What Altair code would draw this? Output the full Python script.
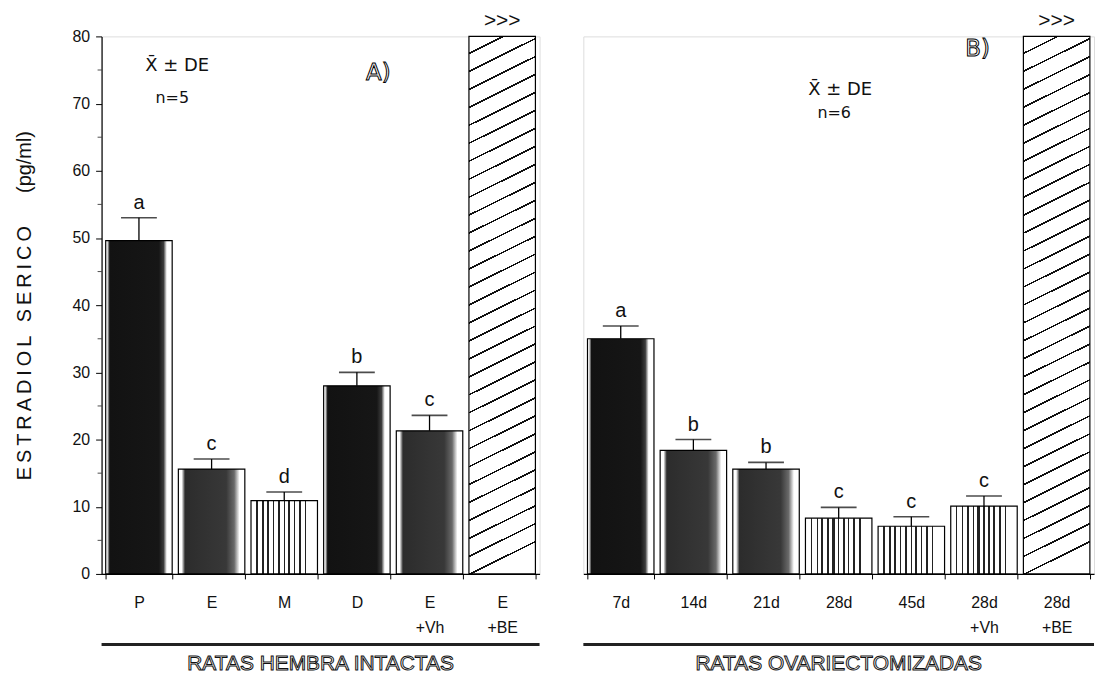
import altair as alt
import pandas as pd

# ---------------- data ----------------
left_groups = ["P", "E", "M", "D", "E|+Vh", "E|+BE"]
left_mean = [49.6, 15.6, 10.9, 28.0, 21.3, 80.0]
left_sd_top = [53.0, 17.1, 12.2, 30.0, 23.6, None]
left_letters = ["a", "c", "d", "b", "c", ""]

right_groups = ["7d", "14d", "21d", "28d", "45d", "28d|+Vh", "28d|+BE"]
right_mean = [35.0, 18.4, 15.6, 8.3, 7.1, 10.1, 80.0]
right_sd_top = [36.9, 20.0, 16.6, 9.9, 8.5, 11.6, None]
right_letters = ["a", "b", "b", "c", "c", "c", ""]

y_ticks = [0, 10, 20, 30, 40, 50, 60, 70, 80]
y_minor = [5, 15, 25, 35, 45, 55, 65, 75]

left_title = "RATAS HEMBRA INTACTAS"
right_title = "RATAS OVARIECTOMIZADAS"
left_notes = ["X\u0304 \u00b1 DE", "n=5", "A)"]
right_notes = ["X\u0304 \u00b1 DE", "n=6", "B)"]
off_scale_mark = ">>>"
y_title = "\u2009".join("ESTRADIOL SERICO") + "\u00a0" * 6 + "(pg/ml)"

# ---------------- style ----------------
FONT = "Liberation Sans"
STEP = 73
PI, PO = 0.085, 0.057
H = 540

DARK = ["P", "D", "7d"]
MEDIUM = ["E", "E|+Vh", "14d", "21d"]
LIGHT = ["M", "28d", "45d", "28d|+Vh"]
HATCH = ["E|+BE", "28d|+BE"]


def hgrad(stops):
    return alt.LinearGradient(
        gradient="linear", x1=0, y1=0, x2=1, y2=0,
        stops=[alt.GradientStop(offset=round(o, 4), color=c) for o, c in stops])


dark_fill = hgrad([(0, "#fff"), (0.02, "#fff"), (0.06, "#121212"), (0.8, "#161616"),
                   (0.87, "#3c3c3c"), (0.92, "#fff"), (1, "#fff")])
medium_fill = hgrad([(0, "#fff"), (0.05, "#fff"), (0.1, "#2c2c2c"), (0.72, "#383838"),
                     (0.84, "#6a6a6a"), (0.92, "#fff"), (1, "#fff")])

light_lines = [(0.08, 0.10), (0.17, 0.19), (0.24, 0.27), (0.33, 0.35), (0.40, 0.44),
               (0.49, 0.51), (0.56, 0.59), (0.64, 0.66), (0.72, 0.75), (0.81, 0.83)]
ls = [(0, "#fff")]
for a, b in light_lines:
    ls += [(a, "#fff"), (a, "#222"), (b, "#222"), (b, "#fff")]
ls += [(1, "#fff")]
light_fill = hgrad(ls)


def hatch_fill():
    p, d = 0.0333, 0.0034
    stops = []
    k = 0
    while (k + 1) * p <= 1.0:
        a = k * p
        stops += [(a, "#fff"), (a + p - d, "#fff"), (a + p - d, "#111"), (a + p, "#111")]
        k += 1
    stops += [(k * p, "#fff"), (1, "#fff")]
    return alt.LinearGradient(
        gradient="linear", x1=0, y1=0, x2=0.0612, y2=1,
        stops=[alt.GradientStop(offset=round(o, 4), color=c) for o, c in stops])


HATCH_FILL = hatch_fill()
ysc = alt.Scale(domain=[0, 80], nice=False, zero=True)


def panel(groups, means, tops, letters, title, notes, note_pos, show_y):
    n = len(groups)
    W = round(STEP * (n - PI + 2 * PO))
    df = pd.DataFrame({"g": groups, "m": means, "e": tops, "l": letters})

    xaxis = alt.Axis(title=None, labelExpr="split(datum.label, '|')", labelAngle=0,
                     tickBand="extent", tickSize=5, tickColor="black", domainColor="black",
                     domainWidth=1.2, labelFont=FONT, labelFontSize=16, labelColor="#111",
                     labelLineHeight=25, labelPadding=16, grid=False)
    x = alt.X("g:N", sort=groups, scale=alt.Scale(paddingInner=PI, paddingOuter=PO), axis=xaxis)
    if show_y:
        yaxis = alt.Axis(values=y_ticks, tickSize=6, tickColor="black",
                         domainColor="black", domainWidth=1.2, labelFont=FONT,
                         labelFontSize=16, labelColor="#111", labelPadding=6, grid=False,
                         titleFont=FONT, titleFontSize=20, titleFontWeight="normal",
                         titleColor="#111", titlePadding=38)
    else:
        yaxis = None

    def Y(f):
        return alt.Y(f, scale=ysc, axis=yaxis, title=y_title)

    base = alt.Chart(df)
    layers = []
    for cats, fill in [(DARK, dark_fill), (MEDIUM, medium_fill), (LIGHT, light_fill),
                       (HATCH, HATCH_FILL)]:
        layers.append(
            base.transform_filter(alt.FieldOneOfPredicate(field="g", oneOf=cats))
            .mark_bar(fill=fill, stroke="black", strokeWidth=1.2)
            .encode(x=x, y=Y("m:Q")))
    solid = base.transform_filter("isValid(datum.e)")
    layers.append(solid.mark_rule(color="black", strokeWidth=1.3)
                  .encode(x=x, y=Y("m:Q"), y2="e:Q"))
    layers.append(solid.mark_tick(color="black", thickness=1.6, size=36, orient="horizontal")
                  .encode(x=x, y=Y("e:Q")))
    layers.append(solid.mark_text(baseline="bottom", dy=-5, font=FONT, fontSize=20, color="#111")
                  .encode(x=x, y=Y("e:Q"), text="l:N"))
    layers.append(base.transform_filter(alt.FieldOneOfPredicate(field="g", oneOf=HATCH))
                  .mark_text(text=off_scale_mark, baseline="bottom", dy=-5, font=FONT,
                             fontSize=21, color="#111")
                  .encode(x=x, y=Y("m:Q")))

    if show_y:
        layers.append(alt.Chart(pd.DataFrame({"v": y_minor}))
                      .mark_tick(color="black", thickness=1, size=4, orient="horizontal")
                      .encode(x=alt.value(-2), y=Y("v:Q")))

    # annotations
    sizes = [18, 16, 23]
    for (txt, (px, py), fs) in zip(notes, note_pos, sizes):
        outline = txt.endswith(")")
        kw = dict(fill="white", stroke="black", strokeWidth=1.0) if outline else dict(color="#111")
        layers.append(alt.Chart(pd.DataFrame({"t": [txt]}))
                      .mark_text(font="DejaVu Sans", fontSize=fs, **kw)
                      .encode(x=alt.value(px), y=alt.value(py), text="t:N"))

    # thick group line and group title
    layers.append(alt.Chart(pd.DataFrame({"t": [title]}))
                  .mark_rule(color="#222", strokeWidth=3)
                  .encode(x=alt.value(0), x2=alt.value(W), y=alt.value(H + 71)))
    layers.append(alt.Chart(pd.DataFrame({"t": [title]}))
                  .mark_text(font=FONT, fontSize=21, fill="white", stroke="#111", strokeWidth=1.0)
                  .encode(x=alt.value(W / 2), y=alt.value(H + 91), text="t:N"))

    return alt.layer(*layers).properties(width=W, height=H)


left = panel(left_groups, left_mean, left_sd_top, left_letters, left_title, left_notes,
             [(76, 30), (71, 62), (278, 37)], True)
right = panel(right_groups, right_mean, right_sd_top, right_letters, right_title, right_notes,
              [(258, 54), (252, 77), (396, 13)], False)

chart = alt.hconcat(left, right, spacing=40).properties(
    padding={"left": 5, "top": 0, "right": 0, "bottom": 0}
).configure_view(stroke=None).configure(background="white")

chart.save("out.html", embed_options={"renderer": "svg", "actions": False})
